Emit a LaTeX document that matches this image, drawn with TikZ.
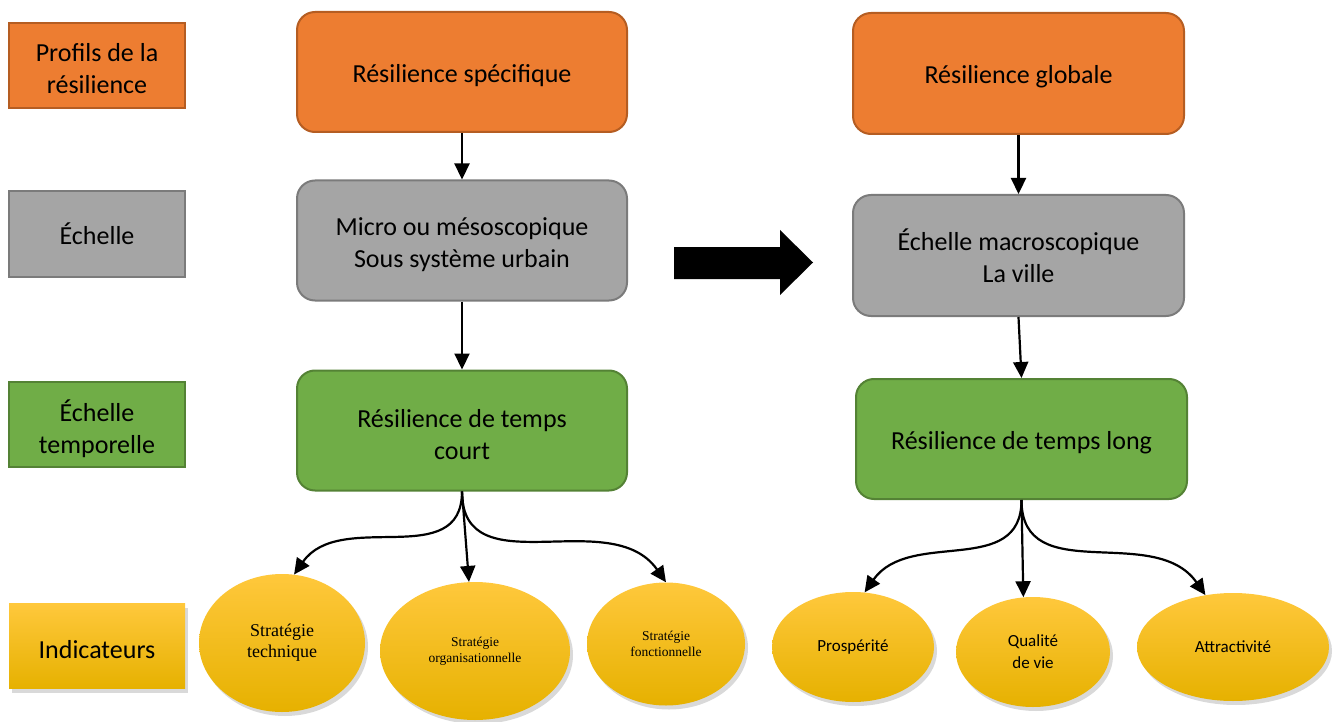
\documentclass[tikz,border=0pt]{standalone}
\usepackage{fontspec}
\setmainfont{Carlito}
\newfontfamily\timesf{Liberation Serif}
\usetikzlibrary{arrows.meta,shadows,shapes.geometric}
\definecolor{orfill}{HTML}{ED7D31}
\definecolor{ordraw}{HTML}{B55D22}
\definecolor{grfill}{HTML}{A5A5A5}
\definecolor{grdraw}{HTML}{7B7B7B}
\definecolor{gnfill}{HTML}{70AD47}
\definecolor{gndraw}{HTML}{548235}
\definecolor{ytop}{HTML}{FFC83C}
\definecolor{ymid}{HTML}{FFC000}
\definecolor{ybot}{HTML}{E6B100}
\newcommand\fstrut[1]{\rule{0pt}{#1}}
\tikzset{
  lab/.style={rectangle,minimum width=176pt,minimum height=85pt,inner sep=0pt,align=center,
    font=\fontsize{26}{32}\selectfont,line width=2pt},
  bigbox/.style={rectangle,rounded corners=18pt,minimum width=330pt,minimum height=120pt,inner sep=0pt,
    align=center,font=\fontsize{26}{32}\selectfont,line width=2pt},
  oneline/.style={execute at begin node={\fstrut{24.5pt}}},
  orange/.style={fill=orfill,draw=ordraw},
  grey/.style={fill=grfill,draw=grdraw},
  green/.style={fill=gnfill,draw=gndraw},
  yel/.style={top color=ytop,middle color=ymid,bottom color=ybot,
    drop shadow={opacity=0.3,shadow xshift=3pt,shadow yshift=-4pt}},
  ell/.style={ellipse,inner sep=0pt,align=center,yel},
  arr/.style={line width=2.2pt,-{Triangle[length=16pt,width=15pt]}},
}
\begin{document}
\begin{tikzpicture}[x=1pt,y=-1pt]
\useasboundingbox (0,0) rectangle (1333,722);
% left labels
\node[lab,orange] (lprof) at (97,65.5) {\fstrut{24pt}Profils de la\\résilience};
\node[lab,grey] (lech) at (97,234) {Échelle};
\node[lab,green] (ltemp) at (97,424.5) {\fstrut{29.5pt}Échelle\\temporelle};
\node[lab,yel,oneline] (lind) at (97,646) {Indicateurs};
% middle column
\node[bigbox,orange,oneline] (spec) at (462,72) {Résilience spécifique};
\node[bigbox,grey] (micro) at (462,240.5) {\fstrut{27pt}Micro ou mésoscopique\\Sous système urbain};
\node[bigbox,green] (court) at (462,430.5) {\fstrut{26pt}Résilience de temps\\court};
% right column
\node[bigbox,orange,oneline,minimum width=331pt,minimum height=121pt] (glob) at (1018.5,73.5) {Résilience globale};
\node[bigbox,grey,minimum width=331pt,minimum height=121pt] (macro) at (1018.5,255.5) {Échelle macroscopique\\La ville};
\node[bigbox,green,oneline,minimum width=331pt,minimum height=120pt] (long) at (1021.5,439) {Résilience de temps long};
% ellipses left
\node[ell,minimum width=166pt,minimum height=138pt,font=\timesf\fontsize{18}{21}\selectfont] (tech) at (282,643) {Stratégie\\technique};
\node[ell,minimum width=190pt,minimum height=138pt,font=\timesf\fontsize{13.5}{16}\selectfont] (org) at (475,651) {Stratégie\\organisationnelle};
\node[ell,minimum width=158pt,minimum height=123pt,font=\timesf\fontsize{13.5}{16}\selectfont] (fonct) at (666,644) {Stratégie\\fonctionnelle};
% ellipses right
\node[ell,minimum width=162pt,minimum height=110pt,font=\fontsize{17}{22}\selectfont] (pros) at (853,647) {Prospérité};
\node[ell,minimum width=154pt,minimum height=110pt,font=\fontsize{17}{22}\selectfont] (qual) at (1033,652) {Qualité\\de vie};
\node[ell,minimum width=192pt,minimum height=108pt,font=\fontsize{17}{22}\selectfont] (attr) at (1233,647) {Attractivité};
% vertical arrows
\draw[arr] (spec.south) -- (micro.north);
\draw[arr] (micro.south) -- (court.north);
\draw[arr] (glob.south) -- (macro.north);
\draw[arr] (macro.south) -- (long.north);
% curved arrows
\draw[arr] (court.south) to[out=-90,in=55,looseness=1.1] (tech.80);
\draw[arr] (court.south) -- (org.95);
\draw[arr] (court.south) to[out=-90,in=125,looseness=1.1] (fonct.north);
\draw[arr] (long.south) to[out=-90,in=55,looseness=1.1] (pros.78);
\draw[arr] (long.south) -- (qual.100);
\draw[arr] (long.south) to[out=-90,in=125,looseness=1.1] (attr.118);
% big arrow
\fill[black] (674,247) -- (780,247) -- (780,230) -- (813,262.5) -- (780,295) -- (780,279) -- (674,279) -- cycle;
\end{tikzpicture}
\end{document}
